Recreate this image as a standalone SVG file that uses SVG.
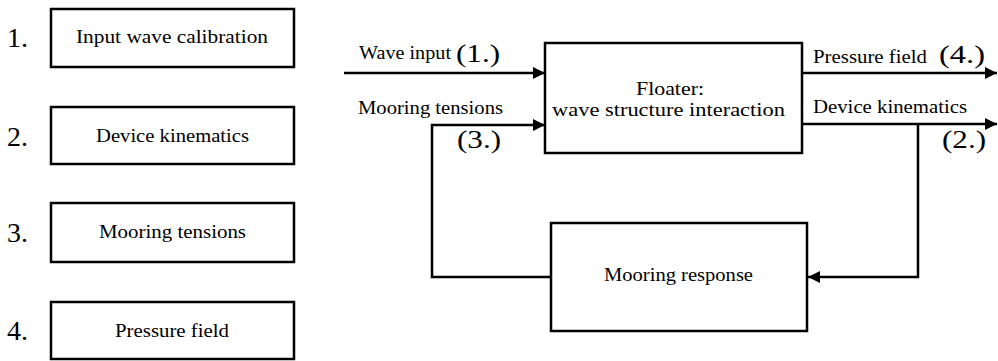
<svg xmlns="http://www.w3.org/2000/svg" width="998" height="361" viewBox="0 0 998 361">
<defs>
<style>
.box{fill:#fff;stroke:#000;stroke-width:2.5}
.ln{fill:none;stroke:#000;stroke-width:2.5}
.t{font-size:19px}
.big{font-size:28px}
.mid{font-size:25px}
</style>
<marker id="ah" markerWidth="12" markerHeight="12" viewBox="0 0 12 12" refX="12" refY="6" orient="auto" markerUnits="userSpaceOnUse">
<path d="M0,0 L12,6 L0,12 Z" fill="#000"/>
</marker>
</defs>
<rect width="998" height="361" fill="#fff"/>
<g font-family="Liberation Serif, DejaVu Serif, serif" fill="#000">
<g id="legend1">
<text class="big" x="7" y="47">1.</text>
<rect class="box" x="51" y="9" width="243" height="58"/>
<text class="t" x="76" y="43" textLength="192" lengthAdjust="spacingAndGlyphs">Input wave calibration</text>
</g>
<g id="legend2">
<text class="big" x="7" y="146">2.</text>
<rect class="box" x="51" y="107" width="243" height="57"/>
<text class="t" x="96" y="142" textLength="153" lengthAdjust="spacingAndGlyphs">Device kinematics</text>
</g>
<g id="legend3">
<text class="big" x="7" y="242">3.</text>
<rect class="box" x="51" y="203" width="243" height="59"/>
<text class="t" x="99" y="238" textLength="147" lengthAdjust="spacingAndGlyphs">Mooring tensions</text>
</g>
<g id="legend4">
<text class="big" x="7" y="340">4.</text>
<rect class="box" x="51" y="302" width="243" height="57"/>
<text class="t" x="115" y="337" textLength="114" lengthAdjust="spacingAndGlyphs">Pressure field</text>
</g>
<g id="connectors">
<path class="ln" d="M344,73 H545" marker-end="url(#ah)"/>
<path class="ln" d="M551,277 H432 V125 H545" marker-end="url(#ah)"/>
<path class="ln" d="M802,73 H997" marker-end="url(#ah)"/>
<path class="ln" d="M802,124 H997" marker-end="url(#ah)"/>
<path class="ln" d="M918,124 V277 H808" marker-end="url(#ah)"/>
<text class="t" x="359" y="59" textLength="92" lengthAdjust="spacingAndGlyphs">Wave input</text>
<text class="mid" x="456" y="62" textLength="44" lengthAdjust="spacingAndGlyphs">(1.)</text>
<text class="t" x="358" y="114" textLength="145" lengthAdjust="spacingAndGlyphs">Mooring tensions</text>
<text class="mid" x="457" y="148" textLength="44" lengthAdjust="spacingAndGlyphs">(3.)</text>
<text class="t" x="813" y="63" textLength="114" lengthAdjust="spacingAndGlyphs">Pressure field</text>
<text class="mid" x="939" y="63" textLength="46" lengthAdjust="spacingAndGlyphs">(4.)</text>
<text class="t" x="813" y="113" textLength="154" lengthAdjust="spacingAndGlyphs">Device kinematics</text>
<text class="mid" x="942" y="148" textLength="44" lengthAdjust="spacingAndGlyphs">(2.)</text>
</g>
<g id="floater">
<rect class="box" x="545" y="43" width="257" height="110"/>
<text class="t" x="636" y="95" textLength="68" lengthAdjust="spacingAndGlyphs">Floater:</text>
<text class="t" x="552" y="116" textLength="233" lengthAdjust="spacingAndGlyphs">wave structure interaction</text>
</g>
<g id="mooring">
<rect class="box" x="551" y="223" width="256" height="108"/>
<text class="t" x="604" y="281" textLength="149" lengthAdjust="spacingAndGlyphs">Mooring response</text>
</g>
</g>
</svg>
